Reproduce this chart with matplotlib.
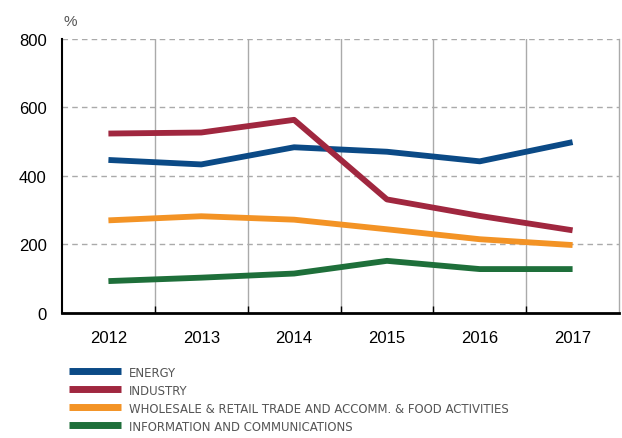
import matplotlib
matplotlib.use("Agg")
import matplotlib.pyplot as plt
from matplotlib.ticker import FixedLocator
from matplotlib import font_manager as fm

years = ["2012", "2013", "2014", "2015", "2016", "2017"]
energy = [446, 433, 483, 470, 442, 498]
industry = [523, 526, 563, 331, 283, 241]
wholesale = [270, 282, 272, 244, 215, 198]
info = [93, 103, 115, 152, 128, 128]
labels = ["ENERGY", "INDUSTRY",
          "WHOLESALE & RETAIL TRADE AND ACCOMM. & FOOD ACTIVITIES",
          "INFORMATION AND COMMUNICATIONS"]
colors = ["#0b4a86", "#a0273f", "#f39325", "#1e6f3a"]
yticks = [0, 200, 400, 600, 800]

plt.rcParams['font.family'] = ['Liberation Sans', 'DejaVu Sans']
fig = plt.figure(figsize=(6.22, 4.39), dpi=100)
W, H = 622, 439
ax = fig.add_axes([62 / W, 1 - 314 / H, (619 - 62) / W, (314 - 39.5) / H])

x = list(range(len(years)))
for vals, c, lab in zip([energy, industry, wholesale, info], colors, labels):
    ax.plot(x, vals, color=c, lw=4.2, label=lab, solid_capstyle='butt', zorder=3)

ax.set_xlim(-0.5, 5.5)
ax.set_ylim(0, 800)
ax.set_xticks(x)
ax.set_xticklabels(years)
ax.xaxis.set_minor_locator(FixedLocator([0.5, 1.5, 2.5, 3.5, 4.5]))
ax.tick_params(axis='x', which='major', length=0, pad=12, labelsize=12)
ax.tick_params(axis='x', which='minor', length=5, width=1, color='black', direction='in')
ax.set_yticks(yticks)
ax.tick_params(axis='y', length=0, pad=11, labelsize=12)
for y in yticks[1:]:
    ax.axhline(y, color='#aaaaaa', lw=1, ls=(0, (4, 3)), zorder=1)
for xv in [0.5, 1.5, 2.5, 3.5, 4.5]:
    ax.axvline(xv, color='#aaaaaa', lw=1, zorder=1)
ax.spines['top'].set_visible(False)
ax.spines['right'].set_color('#aaaaaa')
ax.spines['right'].set_linewidth(1)
ax.spines['left'].set_linewidth(1.5)
ax.spines['bottom'].set_linewidth(2)

fig.text(64 / W, 1 - 22 / H, "%", fontsize=11, color='#555555', va='center')

prop = fm.FontProperties(family=['DejaVu Sans'], stretch='condensed', size=9.4)
leg = ax.legend(loc='upper left', bbox_to_anchor=(69 / W, 1 - 367 / H),
                bbox_transform=fig.transFigure, frameon=False,
                handlelength=4.0, handletextpad=0.6,
                labelspacing=0.38, borderpad=0, borderaxespad=0,
                prop=prop)
for t in leg.get_texts():
    t.set_color('#555555')
for h in leg.get_lines():
    h.set_linewidth(5)

fig.savefig("out.png", dpi=100)
